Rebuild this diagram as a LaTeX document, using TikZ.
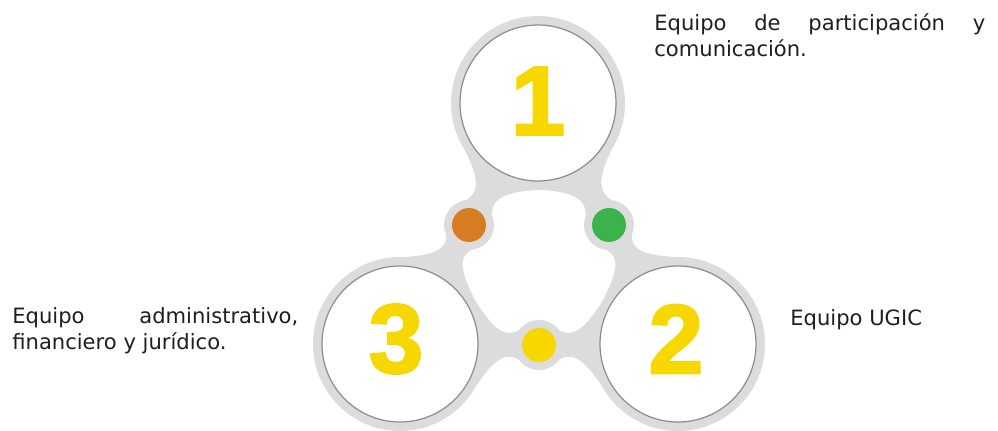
\documentclass[tikz,border=0pt]{standalone}
\usepackage{fontspec}
\setmainfont{DejaVu Sans}
\newfontfamily\digitfont[FakeBold=2.2]{Liberation Sans Bold}
\usetikzlibrary{calc}

\definecolor{ringgray}{HTML}{DCDCDC}
\definecolor{bordergray}{HTML}{8E8E8E}
\definecolor{numyellow}{HTML}{F6D800}
\definecolor{dotorange}{HTML}{D67D24}
\definecolor{dotgreen}{HTML}{3BB34A}
\definecolor{inkgray}{HTML}{1E1E1E}

\tikzset{
  ring/.style={fill=ringgray},
  face/.style={fill=white, draw=bordergray, line width=0.7pt},
  numeral/.style={font=\digitfont\fontsize{56}{56}\selectfont, text=numyellow, inner sep=0pt},
  teamtext/.style={font=\fontsize{12}{15.1}\selectfont, text=inkgray, inner sep=0pt, align=justify,
    execute at begin node={\hyphenpenalty=10000\tolerance=10000}}
}

% grey neck between a big circle (#1) and a small dot (#2)
\newcommand\bridge[2]{%
  \fill[ringgray]
    ($(#1)!1.55cm!(#2)!0.8cm!90:(#2)$)
    .. controls ($(#1)!2.0cm!(#2)!0.12cm!90:(#2)$) and ($(#2)!0.55cm!(#1)!0.12cm!-90:(#1)$) ..
    ($(#2)!0.17cm!(#1)!0.47cm!-90:(#1)$)
    -- ($(#2)!0.17cm!(#1)!0.47cm!90:(#1)$)
    .. controls ($(#2)!0.55cm!(#1)!0.12cm!90:(#1)$) and ($(#1)!2.0cm!(#2)!0.12cm!-90:(#2)$) ..
    ($(#1)!1.55cm!(#2)!0.8cm!-90:(#2)$) -- cycle;}

\begin{document}
\begin{tikzpicture}[x=0.02cm,y=-0.02cm]
    \useasboundingbox (0,0) rectangle (998,430);
    \clip (0,0) rectangle (998,430);

    % centres of the three circles and the three dots
    \coordinate (one) at (538,103);
    \coordinate (two) at (678,344);
    \coordinate (three) at (400,344);
    \coordinate (orangedot) at (469,225);
    \coordinate (greendot) at (609,225);
    \coordinate (yellowdot) at (539,345);

    % grey frame
    \bridge{one}{orangedot}
    \bridge{one}{greendot}
    \bridge{three}{orangedot}
    \bridge{three}{yellowdot}
    \bridge{two}{greendot}
    \bridge{two}{yellowdot}
    \foreach \c in {one,two,three}
        \fill[ring] (\c) circle[radius=1.74cm];
    \foreach \c in {orangedot,greendot,yellowdot}
        \fill[ring] (\c) circle[radius=0.5cm];

    % white faces and coloured dots
    \foreach \c in {one,two,three}
        \draw[face] (\c) circle[radius=1.56cm];
    \fill[dotorange] (orangedot) circle[radius=0.34cm];
    \fill[dotgreen] (greendot) circle[radius=0.34cm];
    \fill[numyellow] (yellowdot) circle[radius=0.34cm];

    % numbers
    \node[numeral] (n1) at ($(one)+(0,-2)$) {1};
    \node[numeral] (n2) at ($(two)+(-2,-5)$) {2};
    \node[numeral] (n3) at ($(three)+(-4,-5)$) {3};

    % team names
    \node[teamtext, anchor=base west, text width=6.62cm] (t1) at (654,30)
        {Equipo de participación y comunicación.};
    \node[teamtext, anchor=base west] (t2) at (790,325) {Equipo UGIC};
    \node[teamtext, anchor=base west, text width=5.72cm] (t3) at (12,323)
        {Equipo administrativo, financiero y jurídico.};
\end{tikzpicture}
\end{document}
